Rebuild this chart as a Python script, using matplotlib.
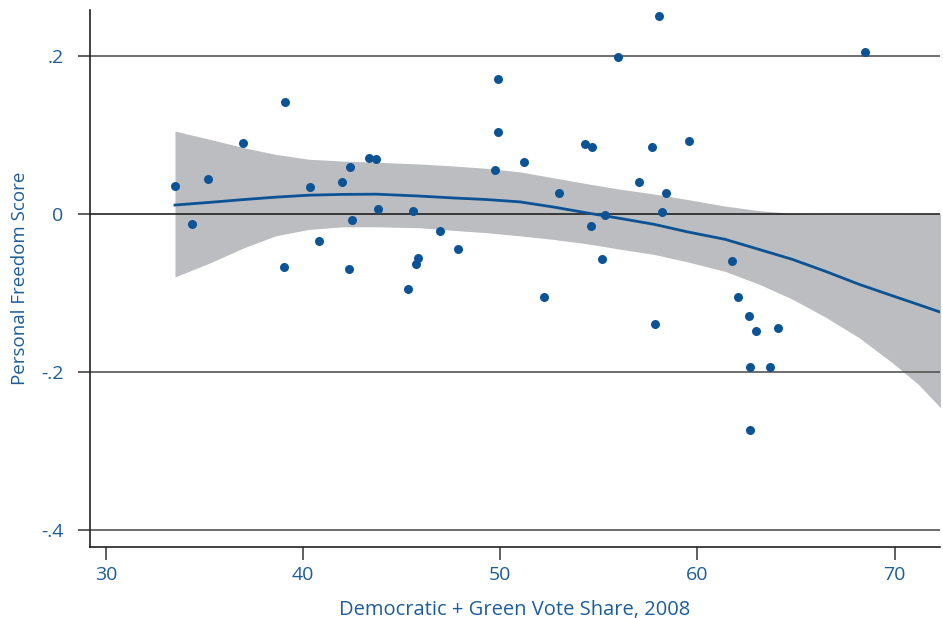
import numpy as np
import matplotlib
matplotlib.use("Agg")
import matplotlib.pyplot as plt

# vote share (%) and personal freedom score by state
vote_share = [33.51, 34.35, 35.18, 36.97, 39.06, 39.05, 40.35, 40.82, 41.98, 42.39,
              42.35, 42.49, 43.35, 43.70, 43.80, 45.30, 45.56, 45.83, 45.73, 46.93,
              47.85, 49.90, 49.87, 49.75, 51.22, 52.23, 53.00, 54.32, 54.67, 54.59,
              55.32, 55.15, 55.97, 58.03, 57.02, 57.70, 57.85, 58.41, 58.19, 59.57,
              68.52, 61.76, 62.05, 62.59, 62.96, 64.09, 62.64, 63.67, 62.67]
freedom = [0.035, -0.013, 0.0435, 0.089, 0.141, -0.0675, 0.034, -0.035, 0.040, 0.0595,
           -0.070, -0.008, 0.0705, 0.069, 0.0056, -0.095, 0.0034, -0.056, -0.064, -0.022,
           -0.045, 0.170, 0.104, 0.055, 0.065, -0.106, 0.026, 0.088, 0.084, -0.016,
           -0.001, -0.057, 0.198, 0.251, 0.040, 0.085, -0.140, 0.026, 0.002, 0.092,
           0.205, -0.060, -0.105, -0.129, -0.148, -0.145, -0.194, -0.194, -0.274]

# local polynomial fit with 95% band
fit_x = [33.5, 35.3, 37.0, 38.6, 40.3, 42.0, 43.7, 45.9, 47.6, 49.3, 51.0, 52.7,
         54.4, 56.1, 57.8, 59.5, 61.4, 63.1, 64.8, 66.5, 68.2, 69.9, 71.2, 72.4]
fit_y = [0.0110, 0.0145, 0.0180, 0.0210, 0.0235, 0.0245, 0.0248, 0.0224, 0.0200, 0.0180,
         0.0150, 0.0085, 0.0010, -0.0060, -0.0134, -0.0230, -0.0324, -0.0450, -0.0577,
         -0.0730, -0.0894, -0.1040, -0.1150, -0.1253]
ci_hi = [0.1047, 0.0940, 0.0836, 0.0752, 0.0690, 0.0667, 0.0652, 0.0630, 0.0605, 0.0575,
         0.0530, 0.0455, 0.0380, 0.0310, 0.0250, 0.0180, 0.0097, 0.0040, 0.0005,
         -0.0010, -0.0010, -0.0010, -0.0005, 0.0000]
ci_lo = [-0.0800, -0.0620, -0.0430, -0.0280, -0.0198, -0.0166, -0.0165, -0.0177, -0.0210,
         -0.0240, -0.0280, -0.0325, -0.0380, -0.0450, -0.0515, -0.0610, -0.0730, -0.0890,
         -0.1080, -0.1310, -0.1570, -0.1890, -0.2160, -0.2476]

blue = "#0b5394"
text_blue = "#1c5d99"

plt.rcParams['font.family'] = ['Open Sans', 'DejaVu Sans']

fig = plt.figure(figsize=(9.43, 6.18), dpi=100)
ax = fig.add_axes([90 / 943, 71 / 618, 850 / 943, 537 / 618])

ax.fill_between(fit_x, ci_lo, ci_hi, color="#bcbdc1", lw=0, zorder=1)
ax.plot(fit_x, fit_y, color=blue, lw=2, zorder=3)
ax.scatter(vote_share, freedom, s=42, color=blue, lw=0, zorder=4)

for yv in [0.2, 0, -0.2, -0.4]:
    ax.axhline(yv, color="#222222" if yv == 0 else "#555555", lw=1.2, zorder=2)

ax.set_xlim(29.19, 72.3)
ax.set_ylim(-0.422, 0.258)
ax.set_xticks([30, 40, 50, 60, 70])
ax.set_yticks([0.2, 0, -0.2, -0.4])
ax.set_yticklabels([".2", "0", "-.2", "-.4"])

for s in ["top", "right"]:
    ax.spines[s].set_visible(False)
for s in ["left", "bottom"]:
    ax.spines[s].set_color("#222222")
    ax.spines[s].set_linewidth(1.2)

ax.tick_params(axis="both", colors="#444444", length=9, width=1.2,
               labelcolor=text_blue, labelsize=14)
ax.tick_params(axis="x", pad=5)
ax.tick_params(axis="y", pad=10)

ax.set_xlabel("Democratic + Green Vote Share, 2008", color=text_blue, fontsize=14.5, labelpad=11)
ax.set_ylabel("Personal Freedom Score", color=text_blue, fontsize=13.5, labelpad=9)

fig.savefig("out.png", dpi=100)
